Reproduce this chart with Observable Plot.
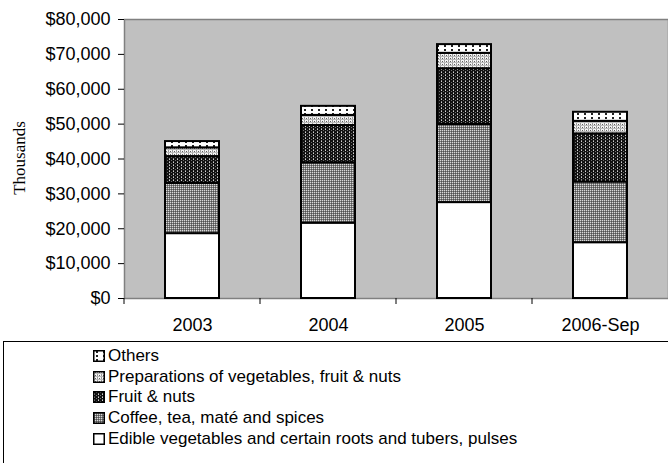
<!DOCTYPE html>
<html><head><meta charset="utf-8">
<script src="https://cdn.jsdelivr.net/npm/d3@7"></script>
<script src="https://cdn.jsdelivr.net/npm/@observablehq/plot@0.6"></script>
<style>
body{margin:0;background:#fff;font-family:"Liberation Sans",Arial,sans-serif;}
#wrap{position:relative;width:668px;height:463px;overflow:hidden;background:#fff}
#chart{position:absolute;left:0;top:0}
#ylab{position:absolute;left:20px;top:158px;transform:translate(-50%,-50%) rotate(-90deg);font-family:"Liberation Serif","Times New Roman",serif;font-size:17px;white-space:nowrap;color:#000}
#legend{position:absolute;left:3px;top:341px;width:680px;height:140px;border:1px solid #000;box-sizing:border-box}
.item{position:absolute;left:89px;height:20px;display:flex;align-items:center;font-size:17px;color:#000;white-space:nowrap}
.item svg{margin-right:3px}
</style>
</head><body>
<svg width="0" height="0" style="position:absolute">
<defs>
<pattern id="pat-edible" width="4" height="4" patternUnits="userSpaceOnUse"><rect width="4" height="4" fill="#fff"/></pattern>
<pattern id="pat-coffee" width="2" height="2" patternUnits="userSpaceOnUse"><rect width="2" height="2" fill="#7a7a7a"/><rect x="0" y="0" width="1" height="1" fill="#d8d8d8"/><rect x="1" y="1" width="1" height="1" fill="#505050"/></pattern>
<pattern id="pat-fruit" width="4" height="3" patternUnits="userSpaceOnUse"><rect width="4" height="3" fill="#111"/><rect x="1" y="0" width="1" height="1" fill="#d0d0d0"/><rect x="3" y="1" width="1" height="1" fill="#707070"/><rect x="1" y="2" width="1" height="1" fill="#888"/></pattern>
<pattern id="pat-prep" width="4" height="3" patternUnits="userSpaceOnUse"><rect width="4" height="3" fill="#f4f4f4"/><rect x="0" y="0" width="1" height="3" fill="#9a9a9a"/><rect x="2" y="1" width="1" height="1" fill="#606060"/><rect x="0" y="2" width="4" height="1" fill="#bbb"/></pattern>
<pattern id="pat-others" width="7" height="4" patternUnits="userSpaceOnUse"><rect width="7" height="4" fill="#fff"/><rect x="3" y="1" width="2" height="2" fill="#222"/></pattern>
</defs>
</svg>
<div id="wrap">
  <div id="chart"></div>
  <div id="ylab">Thousands</div>
  <div id="legend"></div>
</div>
<script>
const years = ["2003", "2004", "2005", "2006-Sep"];
const seriesNames = [
  "Edible vegetables and certain roots and tubers, pulses",
  "Coffee, tea, maté and spices",
  "Fruit & nuts",
  "Preparations of vegetables, fruit & nuts",
  "Others"
];
const edible       = [18600, 21600, 27500, 16000];
const coffee       = [14400, 17300, 22400, 17400];
const fruit        = [ 7700, 10700, 16000, 13800];
const preparations = [ 2500,  2900,  4400,  3600];
const others       = [ 1800,  2600,  2500,  2600];
const yTicks = [0, 10000, 20000, 30000, 40000, 50000, 60000, 70000, 80000];
const patternIds = ["pat-edible", "pat-coffee", "pat-fruit", "pat-prep", "pat-others"];

const seriesValues = [edible, coffee, fruit, preparations, others];
const rows = [];
years.forEach((yr, i) => seriesNames.forEach((s, j) => rows.push({year: yr, series: s, value: seriesValues[j][i]})));

const plot = Plot.plot({
  width: 668, height: 340,
  marginTop: 19, marginBottom: 42, marginLeft: 124, marginRight: 0,
  style: {fontFamily: "'Liberation Sans', Arial, sans-serif", fontSize: "18px", background: "transparent", color: "#000"},
  x: {domain: years, paddingInner: 0.6, paddingOuter: 0.3},
  y: {domain: [0, 80000]},
  color: {type: "ordinal", domain: seriesNames, range: patternIds.map(id => `url(#${id})`)},
  marks: [
    Plot.frame({fill: "#c0c0c0", stroke: "#808080", strokeWidth: 1.5}),
    Plot.barY(rows, {x: "year", y: "value", fill: "series", stroke: "#000", strokeWidth: 2}),
    Plot.axisY({ticks: yTicks, tickFormat: d3.format("$,"), tickSize: 6, tickPadding: 8, label: null, stroke: "#000"}),
    Plot.axisX({tickSize: 0, tickPadding: 20, label: null})
  ]
});
document.getElementById("chart").appendChild(plot);

// category boundary tick marks, positioned from the library's x/y scales
const xs = plot.scale("x"), ys = plot.scale("y");
const step = xs.apply(years[1]) - xs.apply(years[0]);
const gap = step - xs.bandwidth;
const y0 = ys.apply(0);
const svg = d3.select(plot);
years.forEach(yr => {
  const bx = xs.apply(yr) - gap / 2;
  svg.append("line").attr("x1", bx).attr("x2", bx).attr("y1", y0).attr("y2", y0 + 6).attr("stroke", "#000");
});

// legend
const legend = document.getElementById("legend");
const order = [4, 3, 2, 1, 0];
order.forEach((j, k) => {
  const d = document.createElement("div");
  d.className = "item";
  d.style.top = (4 + k * 20.7) + "px";
  d.innerHTML = `<svg width="12" height="12"><rect x="0.75" y="0.75" width="10.5" height="10.5" fill="url(#${patternIds[j]})" stroke="#000" stroke-width="1.5"/></svg><span>${seriesNames[j]}</span>`;
  legend.appendChild(d);
});
</script>
</body></html>
